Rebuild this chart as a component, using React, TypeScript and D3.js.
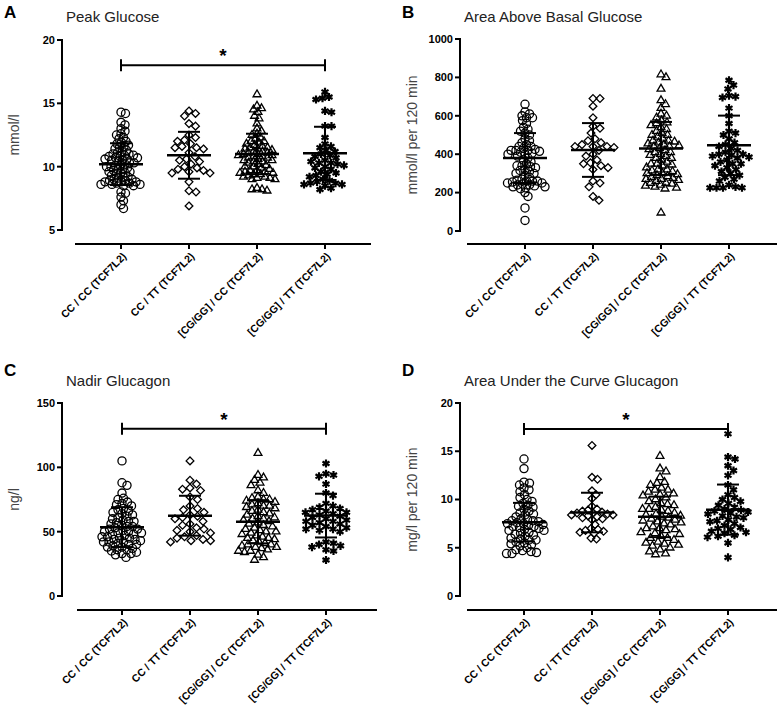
import React from 'react';
import * as d3 from 'd3';

const categories = ['CC / CC (TCF7L2)', 'CC / TT (TCF7L2)', '[CG/GG] / CC (TCF7L2)', '[CG/GG] / TT (TCF7L2)'];

// Panel A: Peak Glucose (mmol/l)
const peakG1 = [14.3, 14.2, 13.5, 13.3, 13.0, 12.8, 12.6, 12.5, 12.3, 12.2, 12.0, 11.9, 11.8, 11.7, 11.6, 11.5, 11.4, 11.3, 11.2, 11.1, 11.0, 11.0, 10.9, 10.9, 10.8, 10.8, 10.7, 10.7, 10.6, 10.6, 10.5, 10.5, 10.4, 10.3, 10.3, 10.2, 10.1, 10.1, 10.0, 10.0, 9.9, 9.8, 9.8, 9.7, 9.6, 9.6, 9.5, 9.5, 9.4, 9.3, 9.2, 9.2, 9.1, 9.0, 9.0, 8.9, 8.9, 8.8, 8.8, 8.8, 8.7, 8.7, 8.6, 8.6, 8.6, 8.5, 8.5, 8.0, 7.9, 7.6, 7.3, 7.0, 6.7];
const peakG2 = [14.4, 14.2, 14.0, 13.4, 13.2, 12.5, 12.3, 12.1, 12.0, 11.8, 11.6, 11.5, 11.5, 11.4, 11.1, 10.8, 10.6, 10.5, 10.4, 10.2, 10.0, 9.9, 9.8, 9.7, 9.6, 9.5, 9.5, 8.8, 8.1, 8.0, 6.9];
const peakG3 = [15.7, 14.8, 14.6, 14.5, 14.3, 14.0, 13.8, 13.4, 13.0, 12.8, 12.6, 12.5, 12.3, 12.2, 12.0, 12.0, 11.9, 11.8, 11.7, 11.6, 11.5, 11.5, 11.4, 11.4, 11.3, 11.2, 11.2, 11.1, 11.1, 11.0, 11.0, 10.9, 10.9, 10.8, 10.8, 10.7, 10.7, 10.6, 10.5, 10.5, 10.4, 10.4, 10.3, 10.2, 10.1, 10.0, 10.0, 9.9, 9.8, 9.7, 9.7, 9.6, 9.6, 9.5, 9.5, 9.4, 9.4, 9.3, 9.2, 9.2, 9.1, 9.1, 9.0, 9.0, 8.3, 8.2, 8.2, 8.1];
const peakG4 = [15.9, 15.5, 15.4, 15.3, 14.4, 14.3, 13.2, 13.2, 12.3, 11.8, 11.6, 11.5, 11.3, 11.2, 11.0, 10.9, 10.8, 10.7, 10.5, 10.4, 10.3, 10.3, 10.2, 10.1, 10.0, 9.9, 9.8, 9.6, 9.5, 9.4, 9.3, 9.2, 9.0, 8.9, 8.8, 8.7, 8.7, 8.6, 8.6, 8.5, 8.3, 8.2];
const peakMean = [10.2, 10.9, 11.0, 11.05];
const peakSD = [1.65, 1.85, 1.6, 2.1];

// Panel B: Area Above Basal Glucose (mmol/l per 120 min)
const aabG1 = [660, 620, 610, 600, 590, 590, 575, 560, 540, 530, 520, 510, 500, 480, 470, 460, 450, 440, 440, 430, 425, 420, 420, 420, 415, 410, 405, 400, 400, 390, 380, 370, 360, 350, 340, 340, 335, 330, 320, 315, 310, 300, 300, 290, 280, 270, 265, 260, 260, 260, 255, 250, 250, 245, 240, 240, 235, 230, 230, 225, 220, 200, 180, 120, 55];
const aabG2 = [690, 690, 650, 590, 545, 535, 510, 480, 470, 460, 450, 440, 440, 440, 435, 420, 400, 390, 370, 355, 350, 340, 330, 320, 260, 250, 230, 180, 160];
const aabG3 = [815, 800, 740, 680, 660, 640, 610, 600, 590, 575, 565, 560, 550, 540, 530, 520, 510, 500, 500, 490, 480, 470, 470, 465, 460, 455, 450, 445, 440, 440, 430, 425, 420, 410, 410, 400, 395, 390, 380, 380, 370, 360, 350, 350, 345, 340, 330, 320, 320, 315, 310, 300, 300, 295, 290, 285, 280, 275, 270, 270, 265, 260, 250, 250, 245, 240, 235, 230, 225, 220, 95];
const aabG4 = [785, 760, 740, 705, 700, 695, 640, 600, 560, 520, 510, 500, 480, 460, 450, 440, 430, 420, 410, 400, 400, 395, 390, 385, 380, 370, 360, 350, 350, 340, 330, 320, 310, 300, 290, 280, 270, 260, 240, 230, 225, 225, 225, 225];
const aabMean = [380, 422, 430, 446];
const aabSD = [130, 140, 138, 155];

// Panel C: Nadir Glucagon (ng/l)
const nadG1 = [105, 88, 86, 80, 76, 75, 73, 72, 71, 70, 68, 67, 66, 65, 64, 63, 62, 61, 60, 59, 58, 58, 57, 56, 55, 54, 54, 53, 52, 52, 51, 50, 50, 49, 49, 48, 48, 47, 46, 46, 45, 45, 44, 44, 43, 42, 42, 42, 41, 40, 40, 39, 38, 38, 37, 36, 36, 35, 34, 33, 33, 32, 30];
const nadG2 = [105, 90, 87, 84, 83, 82, 77, 75, 70, 68, 67, 65, 63, 62, 61, 60, 58, 56, 55, 53, 52, 51, 50, 49, 47, 46, 45, 44, 43, 43, 42];
const nadG3 = [111, 94, 92, 90, 88, 86, 82, 80, 77, 76, 75, 75, 74, 73, 72, 71, 70, 70, 69, 68, 67, 66, 65, 64, 63, 62, 61, 60, 60, 59, 58, 57, 56, 55, 54, 53, 52, 51, 50, 50, 49, 48, 47, 46, 45, 45, 44, 43, 42, 41, 40, 40, 39, 38, 38, 37, 36, 35, 35, 34, 32, 30, 28];
const nadG4 = [103, 95, 94, 93, 87, 80, 78, 72, 70, 69, 68, 67, 66, 65, 65, 64, 63, 62, 61, 60, 59, 58, 58, 57, 56, 55, 54, 53, 52, 52, 51, 50, 42, 41, 40, 39, 38, 36, 35, 28];
const nadMean = [53.5, 62.4, 57.7, 62.5];
const nadSD = [15.5, 15.5, 16.8, 17];

// Panel D: Area Under the Curve Glucagon (mg/l per 120 min)
const aucG1 = [14.2, 13.2, 11.8, 11.7, 11.5, 11.2, 11.0, 10.8, 10.5, 10.2, 10.0, 9.8, 9.6, 9.4, 9.3, 9.2, 9.0, 8.8, 8.6, 8.5, 8.4, 8.2, 8.0, 7.9, 7.8, 7.8, 7.7, 7.6, 7.5, 7.5, 7.4, 7.3, 7.2, 7.2, 7.1, 7.0, 6.9, 6.8, 6.8, 6.6, 6.5, 6.4, 6.3, 6.2, 6.0, 5.9, 5.8, 5.8, 5.6, 5.5, 5.4, 5.3, 5.2, 5.0, 4.8, 4.7, 4.6, 4.5, 4.4, 4.4];
const aucG2 = [15.6, 12.3, 12.1, 10.9, 10.5, 10.1, 9.3, 9.0, 8.9, 8.8, 8.7, 8.6, 8.6, 8.5, 8.4, 8.4, 8.3, 8.2, 8.1, 8.0, 7.9, 7.4, 7.0, 6.9, 6.8, 6.7, 6.6, 6.5, 6.0, 5.9];
const aucG3 = [14.5, 13.2, 12.9, 12.3, 11.8, 11.7, 11.5, 11.2, 11.0, 11.0, 10.8, 10.6, 10.5, 10.4, 10.2, 10.0, 9.8, 9.6, 9.5, 9.4, 9.2, 9.0, 9.0, 8.9, 8.8, 8.6, 8.5, 8.4, 8.3, 8.2, 8.1, 8.0, 7.9, 7.8, 7.7, 7.6, 7.5, 7.4, 7.2, 7.0, 7.0, 6.9, 6.8, 6.6, 6.5, 6.4, 6.2, 6.0, 6.0, 5.8, 5.6, 5.5, 5.4, 5.3, 5.2, 5.0, 4.8, 4.6, 4.4, 4.3];
const aucG4 = [16.8, 14.4, 14.2, 13.5, 13.0, 12.5, 11.5, 11.0, 10.5, 10.2, 10.0, 9.8, 9.6, 9.4, 9.2, 9.0, 8.9, 8.8, 8.7, 8.6, 8.5, 8.3, 8.2, 8.1, 7.9, 7.8, 7.7, 7.5, 7.3, 7.1, 7.0, 6.9, 6.7, 6.6, 6.5, 6.3, 6.2, 6.1, 5.5, 4.0];
const aucMean = [7.65, 8.65, 8.2, 8.95];
const aucSD = [2.0, 2.05, 2.1, 2.6];

const symbols = [d3.symbolCircle, d3.symbolDiamond2, d3.symbolTriangle2, d3.symbolAsterisk];
const symbolSizes = [52, 38, 44, 46];
const collide = [8, 8, 8, 8];
const MAX_SPREAD = 21;

type PanelProps = {
  letter: string; title: string; ylabel: string;
  groups: number[][]; means: number[]; sds: number[];
  domain: [number, number]; ticks: number[];
  left: number; top: number; bottom: number; axisY: number;
  xStart: number; xEnd: number; c0: number;
  sig?: number;
  letterY: number; titleY: number;
};

function swarmOnce(values: number[], y: (v: number) => number, D: number) {
  const sorted = values.map(v => ({ v, y: y(v) })).sort((a, b) => a.y - b.y);
  const placed: { x: number; y: number }[] = [];
  for (const p of sorted) {
    let best = 0;
    for (let k = 0; k < 400; k++) {
      const dx = (k % 2 === 1 ? 1 : -1) * Math.ceil(k / 2) * 0.5;
      if (placed.every(q => (q.x - dx) ** 2 + (q.y - p.y) ** 2 >= D * D)) { best = dx; break; }
    }
    placed.push({ x: best, y: p.y });
  }
  return placed;
}

function swarm(values: number[], y: (v: number) => number, D0: number) {
  let D = D0;
  let pts = swarmOnce(values, y, D);
  while (D > 3 && d3.max(pts, q => Math.abs(q.x))! > MAX_SPREAD) {
    D -= 0.25;
    pts = swarmOnce(values, y, D);
  }
  return pts;
}

const FONT = "'Liberation Sans', Arial, Helvetica, sans-serif";

function Panel(p: PanelProps) {
  const y = d3.scaleLinear().domain(p.domain).range([p.bottom, p.top]);
  const x = d3.scalePoint<string>().domain(categories).range([p.c0, p.c0 + 68 * 3]);
  const yl = (p.top + p.bottom) / 2;
  return (
    <g>
      <text x={p.left - 58} y={p.letterY} fontFamily={FONT} fontWeight="bold" fontSize={17}>{p.letter}</text>
      <text x={p.left + 4} y={p.titleY} fontFamily={FONT} fontSize={15} fill="#222">{p.title}</text>
      <text transform={`translate(${p.left - 43},${yl}) rotate(-90)`} textAnchor="middle" fontFamily={FONT} fontSize={14} fill="#444">{p.ylabel}</text>
      {/* y axis */}
      <line x1={p.left} x2={p.left} y1={y(p.domain[0]) + 1} y2={y(p.domain[1]) - 1} stroke="#000" strokeWidth={2} />
      {p.ticks.map(t => (
        <g key={t}>
          <line x1={p.left - 5} x2={p.left} y1={y(t)} y2={y(t)} stroke="#000" strokeWidth={2} />
          <text x={p.left - 7} y={y(t)} dy="0.35em" textAnchor="end" fontFamily={FONT} fontWeight="bold" fontSize={11}>{t}</text>
        </g>
      ))}
      {/* x axis */}
      <line x1={p.xStart} x2={p.xEnd} y1={p.axisY} y2={p.axisY} stroke="#000" strokeWidth={2} />
      {categories.map(c => (
        <g key={c}>
          <line x1={x(c)} x2={x(c)} y1={p.axisY} y2={p.axisY + 5} stroke="#000" strokeWidth={2} />
          <text transform={`translate(${(x(c) as number) + 6},${p.axisY + 13}) rotate(-45)`} textAnchor="end" fontFamily={FONT} fontWeight="bold" fontSize={10.5}>{c}</text>
        </g>
      ))}
      {/* points */}
      {p.groups.map((g, gi) => {
        const cx = x(categories[gi]) as number;
        const pts = swarm(g, y, collide[gi]);
        const path = d3.symbol().type(symbols[gi]).size(symbolSizes[gi])() as string;
        return (
          <g key={gi}>
            {pts.map((pt, i) => (
              <path key={i} d={path} transform={`translate(${cx + pt.x},${pt.y})`}
                fill="none" stroke="#000" strokeWidth={gi === 3 ? 2.2 : 1.3} />
            ))}
          </g>
        );
      })}
      {/* mean and SD */}
      {p.means.map((m, gi) => {
        const cx = x(categories[gi]) as number;
        const hi = y(m + p.sds[gi]);
        const lo = y(m - p.sds[gi]);
        return (
          <g key={gi} stroke="#000" strokeWidth={2}>
            <line x1={cx - 22} x2={cx + 22} y1={y(m)} y2={y(m)} strokeWidth={2.5} />
            <line x1={cx} x2={cx} y1={hi} y2={lo} />
            <line x1={cx - 11} x2={cx + 11} y1={hi} y2={hi} />
            <line x1={cx - 11} x2={cx + 11} y1={lo} y2={lo} />
          </g>
        );
      })}
      {p.sig !== undefined && (() => {
        const x1 = x(categories[0]) as number;
        const x2 = x(categories[3]) as number;
        const yy = y(p.sig);
        return (
          <g>
            <line x1={x1} x2={x2} y1={yy} y2={yy} stroke="#000" strokeWidth={2} />
            <line x1={x1} x2={x1} y1={yy - 6} y2={yy + 6} stroke="#000" strokeWidth={2} />
            <line x1={x2} x2={x2} y1={yy - 6} y2={yy + 6} stroke="#000" strokeWidth={2} />
            <text x={(x1 + x2) / 2} y={yy - 3} textAnchor="middle" fontFamily={FONT} fontWeight="bold" fontSize={19}>*</text>
          </g>
        );
      })()}
    </g>
  );
}

export default function App() {
  return (
    <svg width={777} height={710} style={{ position: 'absolute', left: 0, top: 0, background: '#fff' }}>
      <rect width={777} height={710} fill="#fff" />
      <Panel letter="A" title="Peak Glucose" ylabel="mmol/l" groups={[peakG1, peakG2, peakG3, peakG4]}
        means={peakMean} sds={peakSD} domain={[5, 20]} ticks={[5, 10, 15, 20]}
        left={62} top={40} bottom={230} axisY={244} xStart={75} xEnd={371} c0={121} sig={18}
        letterY={18} titleY={22} />
      <Panel letter="B" title="Area Above Basal Glucose" ylabel="mmol/l per 120 min" groups={[aabG1, aabG2, aabG3, aabG4]}
        means={aabMean} sds={aabSD} domain={[0, 1000]} ticks={[0, 200, 400, 600, 800, 1000]}
        left={460} top={39} bottom={231} axisY={244} xStart={467} xEnd={777} c0={525}
        letterY={18} titleY={22} />
      <Panel letter="C" title="Nadir Glucagon" ylabel="ng/l" groups={[nadG1, nadG2, nadG3, nadG4]}
        means={nadMean} sds={nadSD} domain={[0, 150]} ticks={[0, 50, 100, 150]}
        left={62} top={403} bottom={596} axisY={610} xStart={77} xEnd={377} c0={122} sig={130}
        letterY={376} titleY={386} />
      <Panel letter="D" title="Area Under the Curve Glucagon" ylabel="mg/l per 120 min" groups={[aucG1, aucG2, aucG3, aucG4]}
        means={aucMean} sds={aucSD} domain={[0, 20]} ticks={[0, 5, 10, 15, 20]}
        left={460} top={403} bottom={596} axisY={610} xStart={467} xEnd={777} c0={524} sig={17.3}
        letterY={376} titleY={386} />
    </svg>
  );
}
